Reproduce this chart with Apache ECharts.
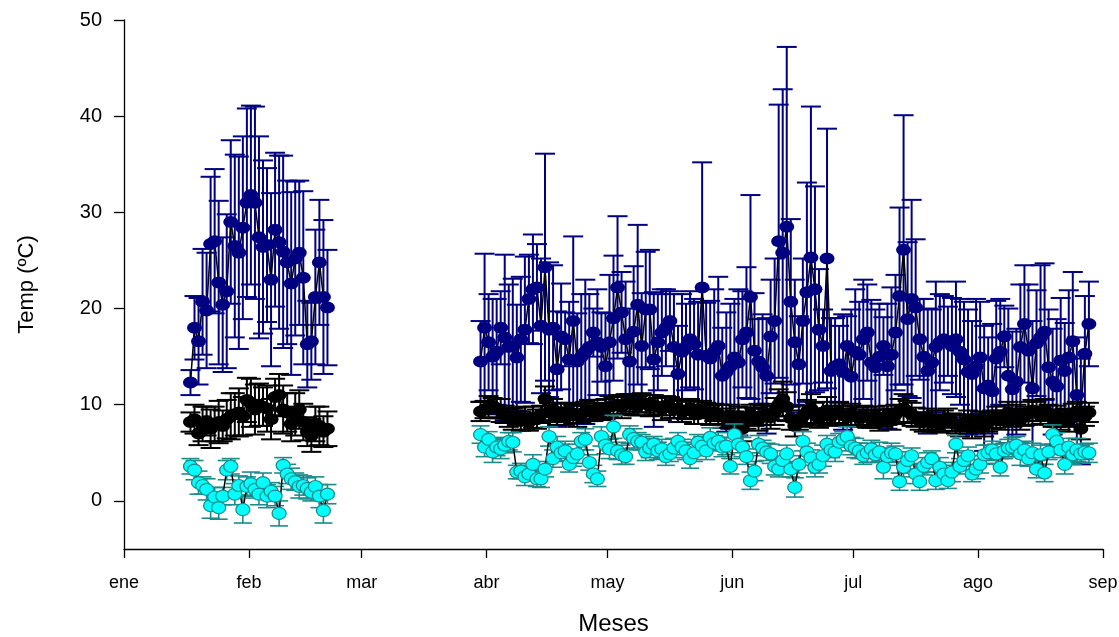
<!DOCTYPE html>
<html>
<head>
<meta charset="utf-8">
<script src="https://cdn.jsdelivr.net/npm/echarts@6/dist/echarts.min.js"></script>
<style>html,body{margin:0;padding:0;background:#fff}#c{width:1119px;height:637px}</style>
</head>
<body>
<div id="c"></div>
<script>
// Month tick labels and their day-of-year positions (day 0 = 1 Jan)
const monthLabels = ['ene','feb','mar','abr','may','jun','jul','ago','sep'];
const monthStartDays = [0,31,59,90,120,151,181,212,243];
const yTicks = [0,10,20,30,40,50];

// Block 1: daily values from day 16 (17 Jan) to day 50 (20 Feb)
const block1StartDay = 16;
const maxB1 = [12.3,18.0,16.6,20.7,19.8,26.7,27.0,22.7,20.4,21.8,29.0,26.5,25.8,28.4,31.0,31.8,31.0,27.4,26.4,26.6,23.0,28.2,26.9,25.9,24.8,22.6,25.2,25.8,23.2,16.3,16.6,21.2,24.8,21.2,20.1];
const maxB1Err = [1.3,3.3,4.5,5.5,6,7,7.5,8.5,7,8,8.5,9.5,10,9.5,9.8,9.3,10,10.5,9,8,9,8,9,10,8.5,9.5,8,7.5,9,4.5,4,7,6.5,8,6];
const meanB1 = [8.2,8.5,7.0,8.0,8.3,7.5,8.0,8.2,7.8,8.5,8.8,9.0,9.2,8.8,10.5,10.2,9.5,10.0,9.8,9.6,8.5,10.8,11.0,9.5,9.2,8.0,9.0,9.5,8.2,7.2,6.8,8.0,7.8,7.2,7.5];
const meanB1Err = [1.0,1.5,1.2,1.8,1.5,2.0,1.8,2.2,1.6,2.0,2.4,2.2,2.5,2.0,2.3,2.5,2.6,2.2,2.0,2.4,2.1,1.9,2.2,2.5,2.0,1.8,2.2,2.0,1.9,1.5,1.7,1.8,2.0,1.6,1.8];
const minB1 = [3.6,3.2,1.9,1.6,1.2,-0.5,0.4,-0.7,0.5,3.2,3.6,0.7,1.6,-0.9,1.5,1.8,1.2,0.7,1.9,0.5,1.0,0.5,-1.3,3.7,2.8,2.3,2.0,1.5,1.6,1.3,0.9,1.5,0.5,-1.0,0.7];
const minB1Err = [0.8,1.0,1.2,0.9,1.1,1.3,1.0,1.2,0.9,1.0,0.8,1.1,1.0,1.4,1.0,1.2,0.9,1.1,1.0,1.2,0.9,1.0,1.3,0.8,1.0,1.1,0.9,1.2,1.0,1.1,0.9,1.0,1.2,1.3,1.0];

// Block 2: daily values from day 88 (30 Mar) to day 239 (28 Aug)
const block2StartDay = 88;
const maxB2 = [
14.5,18.0,16.5,15.0,15.5,18.0,17.0,16.0,16.1,14.9,
16.8,17.8,21.0,22.0,22.2,18.2,24.3,17.8,18.0,13.7,
17.1,16.8,14.7,18.7,14.5,15.0,15.5,16.0,17.5,16.5,
16.0,14.0,16.5,19.0,22.2,19.6,16.8,14.5,17.6,20.4,
16.1,19.9,19.9,14.7,16.5,17.5,18.0,18.7,16.0,13.2,
15.5,16.0,16.8,16.3,15.2,22.2,15.1,14.8,15.5,16.1,
13.0,13.4,14.0,14.9,14.4,16.8,17.5,21.2,15.6,14.5,
13.9,13.0,17.1,18.7,27.0,25.8,28.5,20.7,16.5,14.2,
18.7,21.7,25.3,22.0,17.8,16.1,25.2,13.5,14.0,14.2,
13.4,16.1,12.9,15.5,15.2,16.8,17.5,14.4,13.9,15.0,
16.1,14.0,15.2,17.5,21.3,26.1,18.9,21.0,20.1,16.8,
15.0,13.5,14.4,16.0,16.5,16.8,16.6,16.1,16.8,15.5,
14.7,13.4,13.2,14.0,14.9,11.7,12.0,11.4,14.8,15.5,
17.1,13.0,11.6,12.4,16.0,18.4,15.6,11.7,16.4,17.0,
17.6,13.9,12.4,11.9,14.6,13.5,14.9,16.6,11.0,9.3,
15.3,18.4];
const maxB2Err = [
4.2,7.7,5.0,6.0,5.5,3.8,8.6,6.5,7.0,5.5,
6.5,7.6,4.6,5.7,4.5,7.0,11.8,7.0,6.5,6.0,
5.5,2.8,6.0,8.8,5.0,6.5,7.5,5.5,2.5,5.5,
3.6,5.5,7.0,6.5,7.4,4.2,6.0,5.5,6.8,8.3,
5.5,6.0,6.2,7.0,5.0,4.5,4.0,3.1,5.5,5.0,
6.0,4.5,5.0,4.7,5.5,13.0,5.5,6.0,6.5,7.2,
5.0,6.2,6.5,6.1,7.6,5.0,6.8,10.6,6.0,4.4,
5.5,6.0,5.9,6.5,14.2,17.0,18.7,8.6,6.5,5.0,
6.5,11.4,15.7,10.7,6.3,3.8,13.5,5.5,5.0,4.0,
6.0,3.1,7.0,6.5,5.5,6.2,5.0,6.5,6.0,5.5,
3.0,6.5,7.0,6.0,9.2,14.0,8.0,10.3,7.1,4.2,
6.0,6.5,5.5,6.8,5.0,4.5,3.6,5.0,6.0,5.5,
6.0,6.5,5.5,7.0,5.8,6.5,5.0,7.0,6.0,5.5,
3.2,7.0,6.0,5.5,6.5,6.1,6.9,7.0,5.5,7.5,
7.1,6.0,5.5,7.0,6.5,5.0,7.0,7.2,6.0,5.5,
6.0,4.4];
const meanB2 = [
9.3,9.5,9.8,9.9,9.6,9.4,9.0,8.7,8.5,8.8,
8.3,8.6,8.2,8.7,8.5,9.0,10.6,9.2,9.5,8.8,
9.2,9.0,9.3,9.1,8.9,9.0,9.3,9.4,9.2,9.5,
9.3,9.6,9.8,9.9,10.0,9.8,10.1,10.2,10.0,9.9,
10.2,10.1,9.9,10.0,9.8,9.6,9.9,9.7,9.5,9.6,
9.3,9.4,9.6,9.2,9.0,9.5,9.1,8.9,9.2,9.0,
8.8,8.6,8.9,8.4,8.8,7.5,8.6,9.0,8.7,8.5,
8.9,9.0,8.7,9.3,10.0,10.6,9.8,8.6,7.8,8.4,
8.8,9.2,9.6,9.0,8.6,9.2,9.4,8.8,9.0,9.2,
8.9,8.7,9.0,8.8,8.6,8.9,8.7,8.5,8.8,8.4,
8.6,8.9,8.5,9.0,9.4,9.6,9.3,9.0,8.7,8.3,
8.2,8.5,8.1,8.4,8.0,8.3,8.6,8.2,8.0,7.8,
8.1,8.4,7.6,8.0,8.3,7.8,8.2,8.5,8.7,8.4,
8.9,9.2,8.6,9.0,8.5,8.8,9.1,9.4,9.3,8.9,
9.5,9.0,8.6,8.8,8.4,8.7,8.3,8.9,9.3,7.5,
8.8,9.2];
const meanB2Err = [
1.0,0.9,1.1,0.8,1.0,1.2,0.9,1.0,1.1,0.9,
1.0,1.2,0.9,1.1,1.0,0.9,1.3,1.0,1.1,0.9,
1.0,1.1,0.9,1.0,1.2,0.9,1.0,1.1,0.9,1.0,
0.9,1.0,1.1,0.9,1.0,1.2,1.0,0.9,1.1,1.0,
1.0,0.9,1.1,1.0,0.9,1.2,1.0,1.1,0.9,1.0,
1.1,0.9,1.0,1.2,1.0,0.9,1.1,1.0,0.9,1.0,
1.2,1.0,1.1,0.9,1.0,1.3,1.1,1.0,0.9,1.2,
1.0,1.1,1.2,1.4,1.6,1.8,1.5,1.2,1.1,1.0,
1.1,1.3,1.5,1.2,1.0,1.1,1.4,1.0,0.9,1.1,
1.0,0.9,1.1,1.0,0.9,1.0,1.1,0.9,1.0,1.1,
0.9,1.0,1.1,1.0,1.2,1.5,1.1,1.2,1.0,0.9,
1.0,1.1,0.9,1.0,0.9,1.1,1.0,0.9,1.0,1.1,
0.9,1.0,1.1,0.9,1.0,1.1,1.0,0.9,1.1,1.0,
1.0,1.1,0.9,1.0,1.1,1.0,1.2,1.1,1.0,0.9,
1.1,1.0,0.9,1.1,1.0,0.9,1.1,1.2,1.0,1.1,
1.0,1.0];
const minB2 = [
6.9,5.6,6.4,5.1,5.6,5.4,5.8,6.2,6.1,3.0,
3.1,2.5,2.8,3.8,2.3,2.3,3.3,6.7,4.4,5.6,
5.0,5.2,3.8,4.5,4.9,6.2,6.4,4.0,2.8,2.3,
6.7,5.8,5.4,7.7,5.2,4.8,4.6,6.9,6.5,6.2,
6.1,5.1,5.5,5.9,5.2,5.4,4.6,4.9,5.5,6.2,
5.6,5.2,4.4,5.0,6.1,5.7,5.2,6.6,6.0,6.2,
5.6,5.7,3.6,6.9,5.9,5.6,4.6,2.1,3.1,5.9,
5.5,5.1,4.9,3.6,3.3,4.2,4.9,3.3,1.4,3.8,
6.2,5.1,4.5,3.5,3.8,4.7,5.9,5.3,5.1,6.1,
6.4,6.7,5.7,5.5,5.2,4.7,5.0,5.4,4.8,5.1,
3.5,4.6,5.0,4.9,2.0,3.5,4.2,4.7,2.8,2.0,
3.6,4.0,4.4,2.1,3.5,2.8,2.1,3.0,5.9,3.6,
4.2,4.7,2.8,3.3,3.8,4.8,5.0,5.3,4.9,3.5,
5.2,5.5,5.6,5.8,4.9,5.3,4.4,5.0,3.3,4.8,
2.9,5.1,6.9,6.2,5.3,3.8,5.6,4.8,5.3,4.9,
5.1,5.0];
const minB2Err = [
0.9,1.0,0.8,1.1,0.9,1.0,0.8,0.9,1.0,0.7,
0.8,0.9,0.7,1.0,0.8,0.9,0.8,1.0,0.9,1.1,
0.9,1.0,0.8,0.9,1.0,0.9,1.1,0.8,0.9,0.8,
1.0,0.9,1.0,1.2,0.9,1.0,0.8,0.9,1.0,0.9,
0.8,0.9,1.0,0.8,0.9,1.0,0.9,0.8,1.0,0.9,
0.8,0.9,1.0,0.9,0.8,1.0,0.9,1.0,0.8,0.9,
1.0,0.9,0.8,1.1,0.9,1.0,0.8,0.9,1.0,0.9,
0.8,0.9,1.0,0.9,0.8,1.0,0.9,0.8,1.0,0.9,
1.0,0.9,0.8,1.0,0.9,1.1,0.9,0.8,1.0,0.9,
0.8,1.0,0.9,1.0,0.8,0.9,1.0,0.9,0.8,1.0,
1.2,0.9,1.0,0.8,0.9,1.0,0.9,0.8,1.0,0.9,
0.9,1.0,0.8,0.9,1.0,0.9,0.8,1.0,0.9,0.8,
1.0,0.9,0.8,1.0,0.9,1.0,0.8,0.9,1.0,0.9,
0.8,0.9,1.0,0.9,1.2,0.9,0.8,1.0,0.9,1.0,
0.9,0.8,1.0,0.9,0.8,1.0,0.9,1.0,1.2,0.9,
0.8,1.0];

// ---- build data for the library ----
function pts(start, vals) { return vals.map((v, i) => [start + i + 0.5, v]); }
function bars(start, vals, errs) { return vals.map((v, i) => [start + i + 0.5, v - errs[i], v + errs[i]]); }
function lineData(v1, v2) {
  return pts(block1StartDay, v1).concat([[70, null]], pts(block2StartDay, v2));
}
function barData(v1, e1, v2, e2) {
  return bars(block1StartDay, v1, e1).concat(bars(block2StartDay, v2, e2));
}

function errRenderer(color, capW, lw) {
  return function (params, api) {
    const x = api.value(0), lo = api.value(1), hi = api.value(2);
    const a = api.coord([x, lo]), b = api.coord([x, hi]);
    const h = capW / 2;
    const st = { stroke: color, lineWidth: lw };
    return {
      type: 'group', children: [
        { type: 'line', shape: { x1: a[0], y1: a[1], x2: b[0], y2: b[1] }, style: st },
        { type: 'line', shape: { x1: b[0] - h, y1: b[1], x2: b[0] + h, y2: b[1] }, style: st },
        { type: 'line', shape: { x1: a[0] - h, y1: a[1], x2: a[0] + h, y2: a[1] }, style: st }
      ]
    };
  };
}

const navy = '#000080', teal = '#1a8c8c', cyan = '#00ffff';
const font = "'Liberation Sans', Arial, sans-serif";

const chart = echarts.init(document.getElementById('c'), null, { renderer: 'canvas' });
chart.setOption({
  animation: false,
  backgroundColor: '#fff',
  grid: { left: 124, right: 16, top: 20, bottom: 88, containLabel: false, outerBoundsMode: 'none' },
  xAxis: {
    type: 'value', min: 0, max: 243,
    name: 'Meses', nameLocation: 'middle', nameGap: 63,
    nameTextStyle: { fontFamily: font, fontSize: 24, color: '#000' },
    axisLine: { show: true, onZero: false, lineStyle: { color: '#000', width: 1.3 } },
    axisTick: { show: true, length: 9, customValues: monthStartDays, lineStyle: { color: '#000', width: 1.3 } },
    axisLabel: {
      customValues: monthStartDays, margin: 25, fontFamily: font, fontSize: 18, color: '#000',
      formatter: v => monthLabels[monthStartDays.indexOf(v)] || ''
    },
    splitLine: { show: false }
  },
  yAxis: {
    type: 'value', min: -5, max: 50,
    name: 'Temp (ºC)', nameLocation: 'middle', nameGap: 86,
    nameTextStyle: { fontFamily: font, fontSize: 22, color: '#000' },
    axisLine: { show: true, onZero: false, lineStyle: { color: '#000', width: 1.3 } },
    axisTick: { show: true, length: 10, customValues: yTicks, lineStyle: { color: '#000', width: 1.3 } },
    axisLabel: { customValues: yTicks, margin: 22, fontFamily: font, fontSize: 20, color: '#000' },
    splitLine: { show: false }
  },
  series: [
    { type: 'custom', name: 'maxErr', z: 1, renderItem: errRenderer(navy, 20, 2), encode: { x: 0, y: [1, 2] },
      data: barData(maxB1, maxB1Err, maxB2, maxB2Err) },
    { type: 'line', name: 'max', z: 2, data: lineData(maxB1, maxB2), symbol: 'circle', symbolSize: [15, 12],
      itemStyle: { color: navy }, lineStyle: { color: '#000', width: 1.5 }, connectNulls: false },
    { type: 'custom', name: 'meanErr', z: 3, renderItem: errRenderer('#000', 20, 2), encode: { x: 0, y: [1, 2] },
      data: barData(meanB1, meanB1Err, meanB2, meanB2Err) },
    { type: 'line', name: 'mean', z: 4, data: lineData(meanB1, meanB2), symbol: 'circle', symbolSize: [15, 12],
      itemStyle: { color: '#000' }, lineStyle: { color: '#000', width: 1.5 }, connectNulls: false },
    { type: 'custom', name: 'minErr', z: 5, renderItem: errRenderer(teal, 18, 1.6), encode: { x: 0, y: [1, 2] },
      data: barData(minB1, minB1Err, minB2, minB2Err) },
    { type: 'line', name: 'min', z: 6, data: lineData(minB1, minB2), symbol: 'circle', symbolSize: [14, 12],
      itemStyle: { color: cyan, borderColor: teal, borderWidth: 1.2 }, lineStyle: { color: '#000', width: 1.5 }, connectNulls: false }
  ]
});
</script>
</body>
</html>
